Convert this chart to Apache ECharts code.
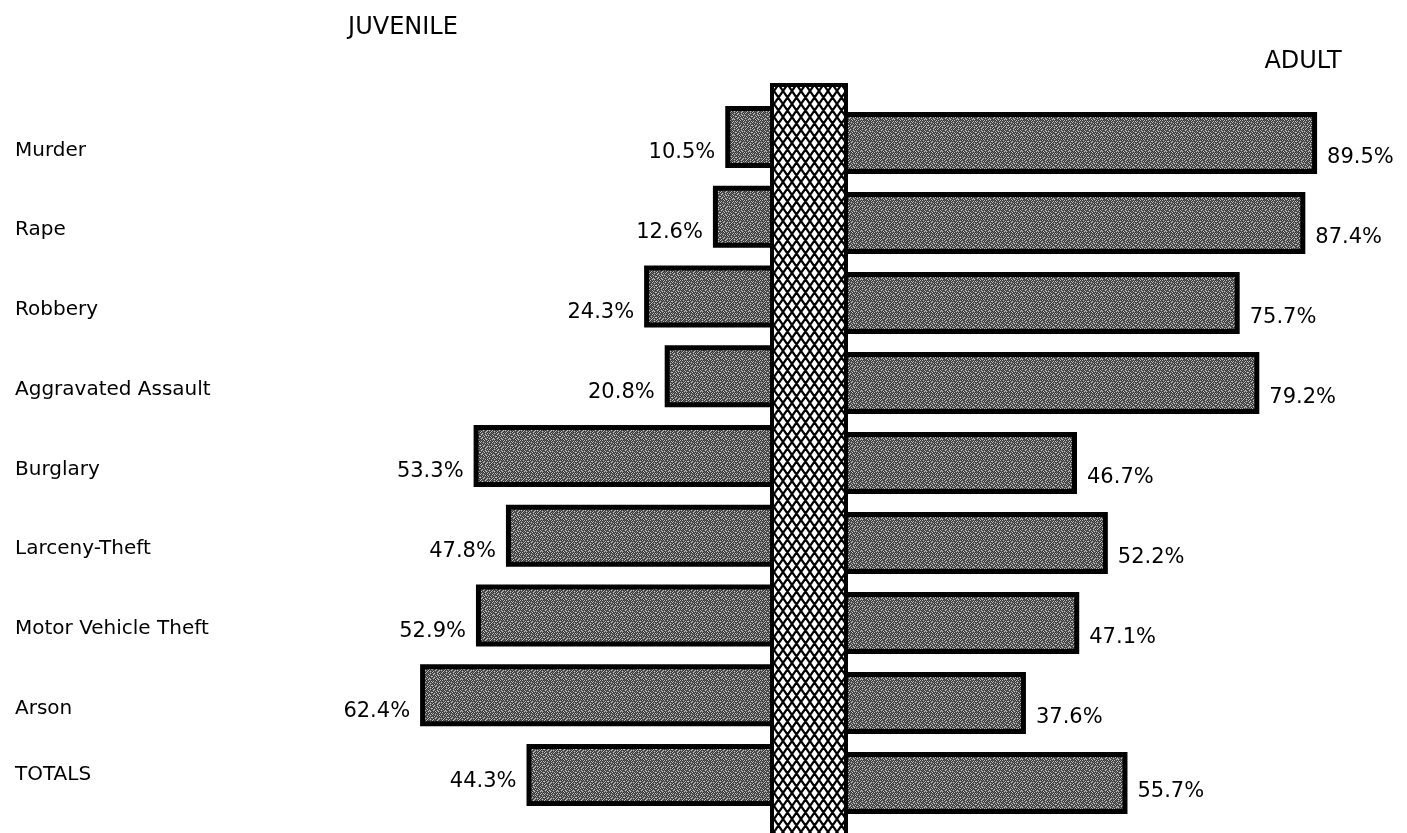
<!DOCTYPE html>
<html>
<head>
<meta charset="utf-8">
<script src="https://cdn.jsdelivr.net/npm/echarts@6/dist/echarts.min.js"></script>
<style>
html,body{margin:0;padding:0;background:#fff;}
#chart{width:1407px;height:833px;}
</style>
</head>
<body>
<div id="chart"></div>
<script>
// ---- data ----
const categories = ['Murder','Rape','Robbery','Aggravated Assault','Burglary','Larceny-Theft','Motor Vehicle Theft','Arson','TOTALS'];
const juvenile = [10.5, 12.6, 24.3, 20.8, 53.3, 47.8, 52.9, 62.4, 44.3];
const adult    = [89.5, 87.4, 75.7, 79.2, 46.7, 52.2, 47.1, 37.6, 55.7];
const sideTitles = ['JUVENILE', 'ADULT'];

// ---- textures (deterministic) ----
function speckle() {
  const bits = [
    '1000010000100000',
    '0010000101000010',
    '0100010000001000',
    '0001001010000100',
    '1000100000100001',
    '0010000100010000',
    '0100010001000100',
    '0001001000001010',
    '0000100010100000',
    '0100000100000101',
    '1001000001001000',
    '0000010100000010',
    '0010000010010000',
    '1000100000000101',
    '0001000101001000',
    '0100001000010010'
  ];
  const c = document.createElement('canvas');
  c.width = 16; c.height = 16;
  const g = c.getContext('2d');
  for (let y = 0; y < 16; y++) for (let x = 0; x < 16; x++) {
    g.fillStyle = bits[y][x] === '1' ? '#c4c4c4' : ((x + y) % 2 ? '#363636' : '#666666');
    g.fillRect(x, y, 1, 1);
  }
  return c;
}
function crosshatch() {
  const w = 9, h = 13;
  const c = document.createElement('canvas');
  c.width = w; c.height = h;
  const g = c.getContext('2d');
  g.fillStyle = '#fff'; g.fillRect(0, 0, w, h);
  g.strokeStyle = '#000'; g.lineWidth = 2.2;
  g.beginPath();
  for (let k = -1; k <= 1; k++) {
    g.moveTo(k * w, 0); g.lineTo(k * w + w, h);
    g.moveTo(k * w + w, 0); g.lineTo(k * w, h);
  }
  g.stroke();
  return c;
}
const barTex = { image: speckle(), repeat: 'repeat' };
const colTex = { image: crosshatch(), repeat: 'repeat' };

const FONT = 'DejaVu Sans';
const last = categories.length - 1;

const chart = echarts.init(document.getElementById('chart'), null, { renderer: 'canvas' });
chart.setOption({
  animation: false,
  backgroundColor: '#fff',
  grid: [
    { left: 199, width: 588, top: 97, height: 718 },
    { left: 815, width: 561, top: 103, height: 720 }
  ],
  xAxis: [
    { gridIndex: 0, type: 'value', min: -100, max: 0, show: false },
    { gridIndex: 1, type: 'value', min: 0, max: 100, show: false }
  ],
  yAxis: [
    {
      gridIndex: 0, type: 'category', inverse: true, position: 'left',
      data: categories,
      axisLine: { show: false }, axisTick: { show: false }, splitLine: { show: false },
      axisLabel: {
        interval: 0, align: 'left', margin: 184, color: '#000', fontFamily: FONT, fontSize: 20,
        lineHeight: 27,
        formatter: (v, i) => (i === last ? v : '\n' + v)
      }
    },
    { gridIndex: 1, type: 'category', inverse: true, data: categories, show: false }
  ],
  series: [
    {
      type: 'bar', xAxisIndex: 0, yAxisIndex: 0, barWidth: 62, barMaxWidth: 200,
      data: juvenile.map((v, i) => ({ value: -v, label: { offset: [0, i === last ? 6 : 16] } })),
      itemStyle: { color: barTex, borderColor: '#000', borderWidth: 5 },
      label: { show: true, position: 'left', distance: 10, formatter: p => Math.abs(p.value) + '%', color: '#000', fontFamily: FONT, fontSize: 21 }
    },
    {
      type: 'bar', xAxisIndex: 1, yAxisIndex: 1, barWidth: 62, barMaxWidth: 200,
      data: adult.map((v, i) => ({ value: v, label: { offset: [0, i === last ? 9 : 15] } })),
      itemStyle: { color: barTex, borderColor: '#000', borderWidth: 5 },
      label: { show: true, position: 'right', distance: 10, formatter: '{c}%', color: '#000', fontFamily: FONT, fontSize: 21 }
    }
  ],
  graphic: [
    { type: 'rect', z: 100, shape: { x: 772, y: 85, width: 74, height: 770 },
      style: { fill: colTex, stroke: '#000', lineWidth: 4 } },
    { type: 'text', z: 100, x: 403, y: 28,
      style: { text: sideTitles[0], align: 'center', verticalAlign: 'middle', font: '24px "DejaVu Sans"', fill: '#000' } },
    { type: 'text', z: 100, x: 1303, y: 62,
      style: { text: sideTitles[1], align: 'center', verticalAlign: 'middle', font: '24px "DejaVu Sans"', fill: '#000' } }
  ]
});
</script>
</body>
</html>
